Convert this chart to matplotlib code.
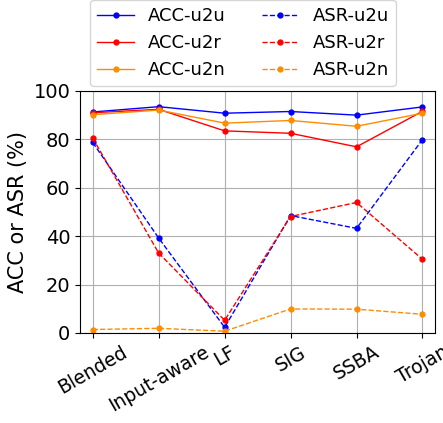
import matplotlib
matplotlib.use("Agg")
import matplotlib.pyplot as plt

# Data
attacks = ["Blended", "Input-aware", "LF", "SIG", "SSBA", "Trojan"]
acc_u2u = [91.3, 93.5, 90.8, 91.5, 90.0, 93.4]
acc_u2r = [91.0, 92.4, 83.5, 82.5, 76.9, 91.6]
acc_u2n = [90.2, 92.1, 86.7, 87.8, 85.4, 90.8]
asr_u2u = [78.7, 39.2, 2.3, 48.5, 43.2, 79.9]
asr_u2r = [80.5, 33.0, 5.2, 48.1, 53.9, 30.4]
asr_u2n = [1.4, 1.9, 0.7, 9.9, 9.8, 7.7]

x = list(range(len(attacks)))

fig = plt.figure(figsize=(4.43, 4.23), dpi=100)
ax = fig.add_axes([0.181, 0.213, 0.801, 0.572])

ax.plot(x, acc_u2u, "-", color="blue", marker="o", markersize=3.5, linewidth=1, label="ACC-u2u")
ax.plot(x, acc_u2r, "-", color="red", marker="o", markersize=3.5, linewidth=1, label="ACC-u2r")
ax.plot(x, acc_u2n, "-", color="darkorange", marker="o", markersize=3.5, linewidth=1, label="ACC-u2n")
ax.plot(x, asr_u2u, "--", color="blue", marker="o", markersize=3.5, linewidth=1, label="ASR-u2u")
ax.plot(x, asr_u2r, "--", color="red", marker="o", markersize=3.5, linewidth=1, label="ASR-u2r")
ax.plot(x, asr_u2n, "--", color="darkorange", marker="o", markersize=3.5, linewidth=1, label="ASR-u2n")

ax.set_xticks(x)
ax.set_xticklabels(attacks, rotation=30, fontsize=13.5)
ax.set_xlim(-0.19, 5.19)
ax.set_ylim(0, 100)
ax.set_yticks([0, 20, 40, 60, 80, 100])
ax.tick_params(axis="y", labelsize=14)
ax.set_ylabel("ACC or ASR (%)", fontsize=15)
ax.grid(True)

ax.legend(ncol=2, fontsize=13, loc="lower center", bbox_to_anchor=(0.459, 1.02),
          handlelength=2, columnspacing=2.0, borderaxespad=0)

fig.savefig("out.png", dpi=100)
